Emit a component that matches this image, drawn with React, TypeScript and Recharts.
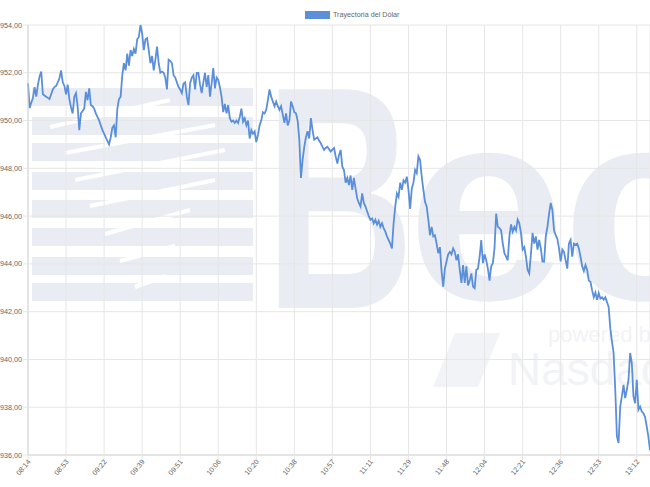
import React from "react";
import { LineChart, Line, XAxis, YAxis, CartesianGrid } from "recharts";

// etiquetas del eje X (una cada 23 operaciones)
const timeLabels = [
  "08:14", "08:53", "09:22", "09:39", "09:51", "10:06", "10:20", "10:38", "10:57",
  "11:11", "11:29", "11:48", "12:04", "12:21", "12:36", "12:53", "13:12",
];

const yTicks = [936, 938, 940, 942, 944, 946, 948, 950, 952, 954];

// precio del dólar
const rate = [
  951.56, 950.53, 950.75, 950.95, 951.4, 951.0, 951.5, 951.85, 952.05, 951.1,
  951.05, 951.0, 950.95, 950.9, 951.1, 951.3, 951.4, 951.45, 951.6, 951.77,
  952.1, 951.6, 951.45, 951.1, 951.5, 950.9, 950.55, 950.3, 951.0, 951.15,
  950.6, 949.6, 950.3, 950.4, 950.5, 951.2, 950.85, 951.35, 950.65, 950.6,
  950.5, 950.3, 950.15, 950.0, 949.8, 949.6, 949.45, 949.3, 949.15, 949.0,
  949.3, 949.7, 949.8, 949.3, 950.5, 950.9, 951.0, 951.9, 952.4, 952.1,
  952.8, 952.3, 952.95, 952.7, 953.0, 952.8, 953.4, 953.5, 954.0, 953.65,
  952.95, 953.4, 953.45, 952.95, 952.4, 952.7, 952.1, 952.55, 953.1, 952.4,
  952.0, 952.05, 952.0, 951.8, 951.3, 952.55, 952.5, 952.4, 951.9, 951.8,
  951.6, 951.4, 951.3, 951.15, 951.55, 951.6, 951.0, 950.65, 951.55, 951.8,
  951.9, 951.3, 952.0, 952.0, 951.5, 951.15, 951.6, 952.0, 951.4, 951.9,
  951.0, 951.55, 952.2, 951.35, 951.8, 951.7, 951.4, 951.0, 950.35, 950.7,
  950.3, 950.65, 950.1, 949.95, 950.0, 949.9, 950.0, 949.9, 950.15, 950.5,
  949.95, 950.1, 949.8, 950.0, 949.25, 949.6, 949.45, 949.55, 949.1, 949.4,
  949.8, 950.0, 950.35, 950.3, 950.45, 950.85, 951.3, 951.0, 950.8, 950.6,
  950.8, 950.6, 950.45, 950.6, 950.25, 949.9, 950.3, 949.8, 950.0, 950.8, 950.6,
  950.35, 950.3, 950.0, 949.2, 947.6, 948.35, 948.9, 949.3, 949.55, 949.25,
  950.1, 949.6, 949.2, 949.25, 949.3, 949.15, 949.05, 948.9, 948.77, 948.85,
  948.9, 948.8, 948.7, 948.78, 948.85, 948.5, 948.2, 948.55, 948.77, 948.07,
  947.93, 947.4, 947.6, 947.3, 947.7, 947.1, 947.6, 947.15, 946.75, 946.55,
  946.4, 946.95, 946.55, 946.4, 946.2, 946.0, 945.85, 945.9, 945.7, 945.85,
  945.65, 945.8, 945.55, 945.7, 945.5, 945.35, 945.15, 945.0, 944.85, 944.65,
  945.7, 946.4, 946.95, 946.8, 947.4, 947.1, 947.5, 947.4, 947.65, 947.1,
  946.3, 947.15, 947.4, 947.93, 947.8, 948.5, 948.35, 947.65, 947.1, 946.6,
  946.4, 945.85, 945.2, 945.55, 945.15, 945.2, 944.85, 944.45, 944.7, 943.7,
  943.05, 943.8, 944.1, 944.4, 944.5, 944.4, 944.65, 944.5, 944.15, 944.4,
  943.75, 943.2, 943.95, 943.2, 943.9, 943.1, 943.3, 943.6, 943.05, 942.98,
  943.75, 943.8, 944.3, 945.0, 944.03, 944.4, 944.15, 943.8, 943.3, 943.9,
  944.03, 944.65, 946.1, 945.55, 945.5, 945.4, 944.85, 944.45, 944.3, 944.15, 945.15,
  945.65, 945.35, 945.55, 945.4, 945.85, 945.7, 945.3, 944.6, 944.7, 944.3,
  943.75, 943.6, 944.4, 945.3, 944.85, 945.15, 944.6, 945.0, 944.65, 944.1,
  944.1, 945.15, 945.55, 946.1, 946.55, 946.25, 945.4, 945.2, 945.05, 944.65,
  944.1, 944.6, 944.5, 944.15, 943.8, 944.85, 945.0, 944.3, 944.85, 944.8,
  944.85, 944.65, 944.3, 943.9, 943.7, 943.95, 943.75, 943.3, 943.25, 942.9,
  942.6, 942.8, 942.5, 942.78, 942.55, 942.6, 942.5, 942.6, 942.4, 942.2,
  941.3, 940.75, 940.27, 938.73, 936.78, 936.5, 938.03, 938.45, 938.94, 938.38,
  938.73, 939.15, 940.27, 939.85, 938.45, 938.17, 939.15, 937.9, 938.03, 937.82,
  937.75, 937.6, 937.2, 936.78, 936.2,
];

const TICK_EVERY = 23;
const data = rate.map((v, i) => ({ i, v }));
const xTicks = timeLabels.map((_, k) => k * TICK_EVERY);

const FONT = "'Liberation Sans', Arial, sans-serif";
const BLUE = "#5b8fd9";
const MARK = "#e9edf3";
const FAINT = "#f2f3f6";

const fmt = (v: number) => v.toFixed(2).replace(".", ",");

function TimeTick(props: any) {
  const { x, y, payload } = props;
  const label = timeLabels[Math.round(payload.value / TICK_EVERY)];
  return (
    <text
      x={x + 3}
      y={y}
      textAnchor="end"
      fontSize={7.2}
      fill="#666"
      fontFamily={FONT}
      transform={`rotate(-50, ${x + 3}, ${y})`}
    >
      {label}
    </text>
  );
}

// marca de agua de fondo (logo Bec / Nasdaq)
function Watermark() {
  const stripes = [88, 117, 143, 172, 200, 228, 257, 283];
  const cuts = [
    [50, 127, 170, 100],
    [65, 153, 215, 125],
    [75, 180, 225, 150],
    [90, 206, 215, 180],
    [105, 234, 190, 210],
    [120, 261, 175, 246],
    [135, 287, 165, 276],
  ];
  return (
    <svg width={650} height={487} style={{ position: "absolute", left: 0, top: 0 }}>
      {stripes.map((y) => (
        <rect key={y} x={32} y={y} width={221} height={18} fill={MARK} />
      ))}
      {cuts.map(([x1, y1, x2, y2], k) => (
        <line key={k} x1={x1} y1={y1} x2={x2} y2={y2} stroke="#fff" strokeWidth={4} />
      ))}
      <g transform="translate(265,308) scale(0.65,1)">
        <text x={0} y={0} fontSize={318} fontWeight={700} fontFamily={FONT} fill={MARK}>B</text>
      </g>
      <g transform="translate(407,299) scale(1.05,1)">
        <text x={0} y={0} fontSize={272} fontWeight={700} fontFamily={FONT} fill={MARK}>e</text>
      </g>
      <g transform="translate(562,299) scale(1.05,1)">
        <text x={0} y={0} fontSize={272} fontWeight={700} fontFamily={FONT} fill={MARK}>c</text>
      </g>
      <text x={548} y={342} fontSize={22} fontFamily={FONT} fill={FAINT}>powered by</text>
      <polygon points="433,387 455,333 500,333 478,387" fill={FAINT} />
      <text x={508} y={385} fontSize={46} fontFamily={FONT} fill={FAINT}>Nasdaq</text>
    </svg>
  );
}

export default function App() {
  return (
    <div style={{ position: "absolute", left: 0, top: 0, width: 650, height: 487, background: "#fff", fontFamily: FONT }}>
      <Watermark />
      <div style={{ position: "absolute", left: 0, top: 0 }}>
        <LineChart width={650} height={487} data={data} margin={{ top: 25, right: 0, left: 0, bottom: 0 }}>
          <CartesianGrid stroke="#e6e6e6" strokeWidth={1} />
          <XAxis
            dataKey="i"
            type="number"
            domain={[0, rate.length - 1]}
            ticks={xTicks}
            interval={0}
            height={32}
            tickSize={5}
            tickMargin={2}
            tickLine={{ stroke: "#e6e6e6" }}
            axisLine={{ stroke: "#d6d6d6" }}
            tick={<TimeTick />}
          />
          <YAxis
            domain={[936, 954]}
            ticks={yTicks}
            interval={0}
            width={28}
            tickSize={5}
            tickMargin={1}
            tickLine={{ stroke: "#e6e6e6" }}
            axisLine={{ stroke: "#d6d6d6" }}
            tick={{ fontSize: 7.2, fill: "#666", fontFamily: FONT }}
            tickFormatter={fmt}
          />
          <Line
            type="linear"
            dataKey="v"
            stroke={BLUE}
            strokeWidth={1.8}
            dot={false}
            isAnimationActive={false}
          />
        </LineChart>
      </div>
      <div style={{ position: "absolute", left: 305, top: 11, display: "flex", alignItems: "center" }}>
        <div style={{ width: 25, height: 8, background: BLUE }} />
        <span style={{ marginLeft: 3, fontSize: 7.2, color: "#666", lineHeight: "8px" }}>
          Trayectoria del Dólar
        </span>
      </div>
    </div>
  );
}
